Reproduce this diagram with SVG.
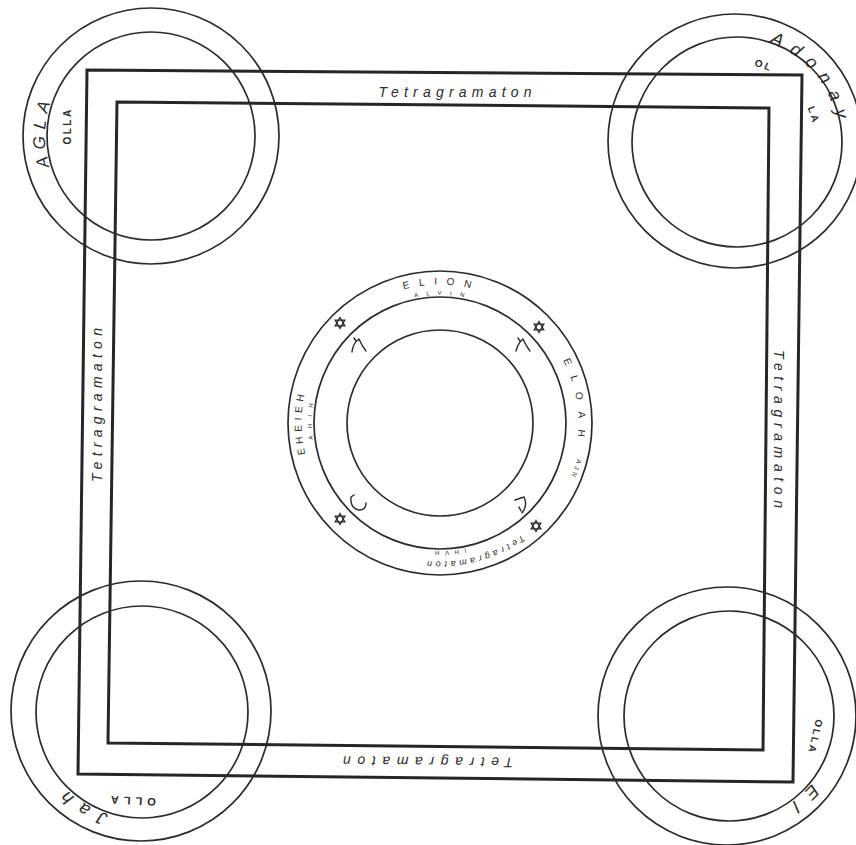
<svg xmlns="http://www.w3.org/2000/svg" width="856" height="845" viewBox="0 0 856 845">
<style>
.sq{fill:none;stroke:#262626;stroke-width:3;stroke-linejoin:miter}
.ring{fill:none;stroke:#2b2b2b;stroke-width:1.7}
.it{font-family:"Liberation Sans",Arial,sans-serif;font-style:italic;fill:#2b2b2b}
.cap{font-family:"Liberation Sans",Arial,sans-serif;fill:#2b2b2b}
.bold{font-weight:bold}
.mark{fill:none;stroke:#2b2b2b;stroke-width:1.4;stroke-linecap:round;stroke-linejoin:round}
.star{fill:none;stroke:#2b2b2b;stroke-width:1.3}
</style>
<defs>
<path id="c138" d="M342.42,520.58 A138,138 0 1 1 537.58,325.42 A138,138 0 1 1 342.42,520.58"/>
<path id="c128" d="M349.49,513.51 A128,128 0 1 1 530.51,332.49 A128,128 0 1 1 349.49,513.51"/>
<path id="c141" d="M340.30,522.70 A141,141 0 1 1 539.70,323.30 A141,141 0 1 1 340.30,522.70"/>
<path id="tl106" d="M257,136 A106,106 0 1 1 45,136 A106,106 0 1 1 257,136"/>
<path id="tr104" d="M839,141 A104,104 0 1 1 631,141 A104,104 0 1 1 839,141"/>
<path id="tr78" d="M815,142 A78,78 0 1 1 659,142 A78,78 0 1 1 815,142"/>
<path id="bl108" d="M249,711 A108,108 0 1 1 33,711 A108,108 0 1 1 249,711"/>
<path id="br108" d="M835,716 A108,108 0 1 1 619,716 A108,108 0 1 1 835,716"/>
<g id="hex" class="star"><polygon points="0,-5.5 4.8,2.8 -4.8,2.8"/><polygon points="0,5.5 4.8,-2.8 -4.8,-2.8"/></g>
</defs>
<rect width="856" height="845" fill="#ffffff"/>

<g id="squares">
<polygon id="outer-square" class="sq" points="87,70 802,75 793,782 78,774"/>
<polygon id="inner-square" class="sq" points="117,102 769,108 763,750 108,743"/>
</g>

<g id="border-names">
<text class="it" font-size="14" x="455" y="97" text-anchor="middle" textLength="153" lengthAdjust="spacing">Tetragramaton</text>
<text class="it" font-size="14" transform="translate(774,429) rotate(90)" text-anchor="middle" textLength="158" lengthAdjust="spacing">Tetragramaton</text>
<text class="it" font-size="14" transform="translate(428,757) rotate(180.5)" text-anchor="middle" textLength="170" lengthAdjust="spacing">Tetragramaton</text>
<text class="it" font-size="14" transform="translate(102,405) rotate(-90)" text-anchor="middle" textLength="154" lengthAdjust="spacing">Tetragramaton</text>
</g>

<g id="corner-tl">
<circle class="ring" cx="151" cy="136" r="128"/>
<circle class="ring" cx="151" cy="136" r="104"/>
<text class="it" font-size="17" letter-spacing="6.5" text-anchor="middle"><textPath href="#tl106" startOffset="337.2">AGLA</textPath></text>
<text class="cap bold" font-size="10" letter-spacing="2.5" text-anchor="middle" transform="translate(71,126) rotate(-90)">OLLA</text>
</g>

<g id="corner-tr">
<circle class="ring" cx="735" cy="141" r="127"/>
<circle class="ring" cx="737" cy="142" r="105"/>
<text class="it" font-size="18" letter-spacing="9" text-anchor="middle"><textPath href="#tr104" startOffset="582.2">Adonay</textPath></text>
<text class="cap bold" font-size="10" letter-spacing="2" text-anchor="middle"><textPath href="#tr78" startOffset="393">OL</textPath></text>
<text class="cap bold" font-size="10" letter-spacing="2" text-anchor="middle"><textPath href="#tr78" startOffset="463">LA</textPath></text>
</g>

<g id="corner-bl">
<circle class="ring" cx="141" cy="711" r="130"/>
<circle class="ring" cx="142" cy="712" r="106"/>
<text class="it" font-size="18" letter-spacing="9.5" text-anchor="middle"><textPath href="#bl108" startOffset="231">Jah</textPath></text>
<text class="cap bold" font-size="11" letter-spacing="5" text-anchor="middle" transform="translate(131,797) rotate(183)">OLLA</text>
</g>

<g id="corner-br">
<circle class="ring" cx="727" cy="716" r="129"/>
<circle class="ring" cx="729" cy="716" r="105"/>
<text class="it" font-size="18" letter-spacing="12" text-anchor="middle"><textPath href="#br108" startOffset="92.7">El</textPath></text>
<text class="cap bold" font-size="10" letter-spacing="2" text-anchor="middle" transform="translate(812,736) rotate(103)">OLLA</text>
</g>

<g id="center-circle">
<circle class="ring" cx="440" cy="423" r="152"/>
<circle class="ring" cx="440" cy="423" r="126"/>
<circle class="ring" cx="440" cy="423" r="93"/>
<text class="cap" font-size="10" letter-spacing="9.35" text-anchor="middle"><textPath href="#c138" startOffset="327.5">ELION</textPath></text>
<text class="cap" font-size="6" letter-spacing="8.2" text-anchor="middle"><textPath href="#c128" startOffset="304.6">ALVIN</textPath></text>
<text class="cap" font-size="10" letter-spacing="11.2" text-anchor="middle"><textPath href="#c138" startOffset="522.5">ELOAH</textPath></text>
<text class="cap" font-size="6.5" letter-spacing="2.9" text-anchor="middle"><textPath href="#c141" startOffset="602">AJN</textPath></text>
<text class="it" font-size="9" letter-spacing="3.5" text-anchor="middle"><textPath href="#c138" startOffset="724.4">Tetragramaton</textPath></text>
<text class="cap" font-size="6" letter-spacing="5.5" text-anchor="middle"><textPath href="#c128" startOffset="695.3">IHVH</textPath></text>
<text class="cap" font-size="10" letter-spacing="4.5" text-anchor="middle"><textPath href="#c138" startOffset="109">EHEIEH</textPath></text>
<text class="cap" font-size="6" letter-spacing="7.2" text-anchor="middle"><textPath href="#c128" startOffset="105.5">AHIH</textPath></text>
<use href="#hex" x="340" y="323"/>
<use href="#hex" x="539" y="327"/>
<use href="#hex" x="340" y="519"/>
<use href="#hex" x="536" y="526"/>
<path class="mark" d="M352,352 Q353,343 359,339 M359,339 Q362,346 366,351 M356,341 l-2,-3"/>
<path class="mark" d="M516,351 Q518,343 523,339 M523,339 Q526,346 530,351 M520,341 l-2,-3"/>
<path class="mark" d="M351,497 Q350,509 359,510 Q366,510 366,503 M351,497 l3,-2"/>
<path class="mark" d="M515,500 L524,497 Q528,505 522,513 M519,507 l2,4"/>
</g>
</svg>
